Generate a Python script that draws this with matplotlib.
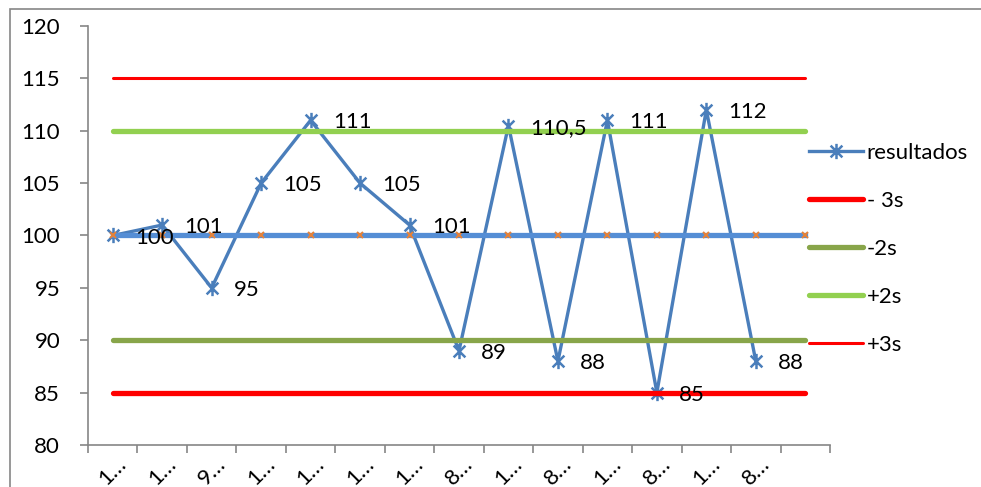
"""Control chart: resultados with mean and +/-2s, +/-3s limits."""

import matplotlib.pyplot as plt
from matplotlib.path import Path
from matplotlib.patches import Rectangle

plt.rcParams["font.family"] = ["Lato", "DejaVu Sans"]

# data
resultados = [100, 101, 95, 105, 111, 105, 101, 89, 110.5, 88, 111, 85, 112, 88]
etiquetas = ["100", "101", "95", "105", "111", "105", "101", "89", "110,5",
             "88", "111", "85", "112", "88"]
n_cat = 15
media = [100] * n_cat
menos3s = [85] * n_cat
menos2s = [90] * n_cat
mas2s = [110] * n_cat
mas3s = [115] * n_cat
x_ticklabels = [s[0] + "\u2026" for s in etiquetas] + [""]

BLUE = "#4A7EBB"
MEAN = "#558ED5"
ORANGE = "#E3823B"
RED = "#FF0000"
OLIVE = "#88A54A"
LGREEN = "#92D050"
GRAY = "#868686"

# asterisk marker: x plus vertical bar
star = Path([(-1, -1), (1, 1), (-1, 1), (1, -1), (0, -1.3), (0, 1.3)],
            [Path.MOVETO, Path.LINETO, Path.MOVETO, Path.LINETO,
             Path.MOVETO, Path.LINETO])

fig = plt.figure(figsize=(9.81, 4.87), dpi=100)
fig.patches.append(Rectangle((10 / 981, -0.1), 1.2, 1.1 - 9 / 487,
                             transform=fig.transFigure, fill=False,
                             edgecolor=GRAY, lw=1.2))
ax = fig.add_axes([88 / 981, 42 / 487, 742 / 981, 419 / 487])

xr = list(range(len(resultados)))
xc = list(range(n_cat))

ax.plot(xr, resultados, color=BLUE, lw=2.4, marker=star, markersize=11,
        markeredgewidth=1.8, label="resultados", zorder=3)
ax.plot(xc, menos3s, color=RED, lw=3.8, solid_capstyle="round",
        label="- 3s", zorder=4)
ax.plot(xc, menos2s, color=OLIVE, lw=3.8, solid_capstyle="round",
        label="-2s", zorder=4)
ax.plot(xc, mas2s, color=LGREEN, lw=3.8, solid_capstyle="round",
        label="+2s", zorder=4)
ax.plot(xc, mas3s, color=RED, lw=2.2, solid_capstyle="round",
        label="+3s", zorder=4)
ax.plot(xc, media, color=MEAN, lw=3.8, marker="x", markersize=4,
        markeredgecolor=ORANGE, markeredgewidth=1.5, label="_nolegend_",
        zorder=5)

for x, y, s in zip(xr, resultados, etiquetas):
    ax.annotate(s, (x, y), xytext=(16, -1.5), textcoords="offset points",
                ha="left", va="center", fontsize=16, color="black", zorder=6)

ax.set_xlim(-0.5, n_cat - 0.5)
ax.set_ylim(80, 120)
ax.set_yticks(range(80, 121, 5))
ax.set_xticks(xc)
ax.set_xticklabels(x_ticklabels, rotation=45, ha="center", va="top")
ax.set_xticks([i - 0.5 for i in range(n_cat + 1)], minor=True)
ax.tick_params(axis="x", which="major", length=0, pad=6, labelsize=16)
ax.tick_params(axis="x", which="minor", length=6, color=GRAY, width=1.2)
ax.tick_params(axis="y", length=6, color=GRAY, width=1.2, pad=14,
               labelsize=16)
for side in ("top", "right"):
    ax.spines[side].set_visible(False)
for side in ("left", "bottom"):
    ax.spines[side].set_color(GRAY)
    ax.spines[side].set_linewidth(1.2)

leg = ax.legend(loc="upper left", bbox_to_anchor=(800 / 981, 1 - 134 / 487),
                bbox_transform=fig.transFigure, frameon=False, fontsize=16,
                handlelength=2.45, handletextpad=0.15, labelspacing=1.26,
                borderaxespad=0)

plt.savefig("out.png", dpi=100, facecolor="white")
plt.close()
